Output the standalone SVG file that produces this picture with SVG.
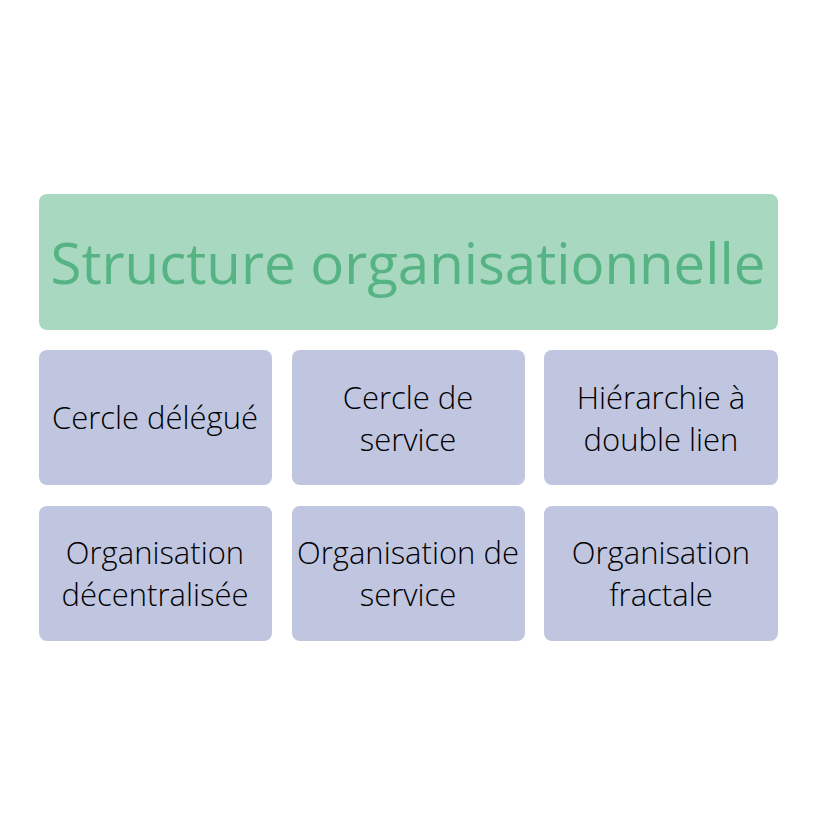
<svg xmlns="http://www.w3.org/2000/svg" width="816" height="836" viewBox="0 0 816 836">
<style>
.t{fill:#a9d8c1}
.b{fill:#c0c6e0}
.h{font-family:"Open Sans",sans-serif;font-size:56.4px;fill:#55b384;text-anchor:middle}
.l{font-family:"Open Sans",sans-serif;font-weight:300;font-size:31px;fill:#000;text-anchor:middle}
</style>
<rect width="816" height="836" fill="#fff"/>
<g id="title"><rect class="t" x="39" y="194" width="739" height="136" rx="8"/><text class="h" x="408" y="284">Structure organisationnelle</text></g>
<g id="n1"><rect class="b" x="39" y="350" width="233" height="135" rx="8"/><text class="l" x="155" y="429">Cercle délégué</text></g>
<g id="n2"><rect class="b" x="292" y="350" width="233" height="135" rx="8"/><text class="l" x="408" y="409">Cercle de</text><text class="l" x="408" y="451">service</text></g>
<g id="n3"><rect class="b" x="544" y="350" width="234" height="135" rx="8"/><text class="l" x="661" y="409">Hiérarchie à</text><text class="l" x="661" y="451">double lien</text></g>
<g id="n4"><rect class="b" x="39" y="506" width="233" height="135" rx="8"/><text class="l" x="155" y="564">Organisation</text><text class="l" x="155" y="606">décentralisée</text></g>
<g id="n5"><rect class="b" x="292" y="506" width="233" height="135" rx="8"/><text class="l" x="408" y="564">Organisation de</text><text class="l" x="408" y="606">service</text></g>
<g id="n6"><rect class="b" x="544" y="506" width="234" height="135" rx="8"/><text class="l" x="661" y="564">Organisation</text><text class="l" x="661" y="606">fractale</text></g>
<g id="connectors"/>
</svg>
